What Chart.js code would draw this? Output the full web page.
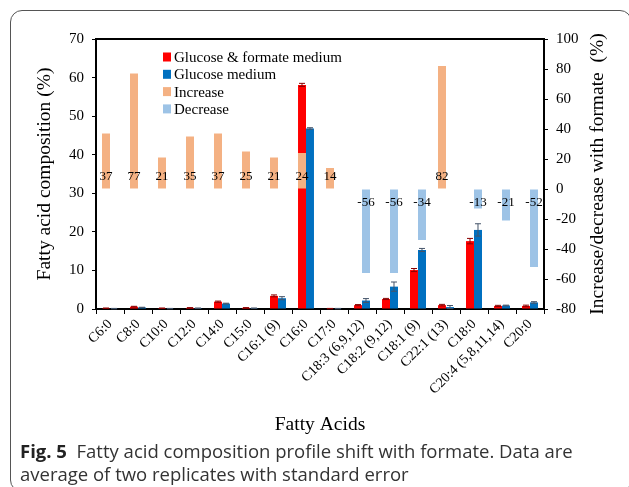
<!DOCTYPE html>
<html>
<head>
<meta charset="utf-8">
<script src="https://cdn.jsdelivr.net/npm/chart.js@4.4.1/dist/chart.umd.min.js"></script>
<style>
  body { margin: 0; background: #fff; }
  #wrap { position: relative; width: 629px; height: 487px; overflow: hidden; }
  #frame { position: absolute; left: 10px; top: 10px; width: 622px; height: 482px; box-sizing: border-box;
           border: 1.5px solid #555; border-radius: 12px; }
  #chart { position: absolute; left: 0; top: 0; }
  #caption { position: absolute; left: 20px; top: 439px; font-family: "Open Sans", sans-serif; font-size: 18.5px;
             line-height: 23px; color: #333; white-space: nowrap; }
  #caption b { color: #222; }
</style>
</head>
<body>
<div id="wrap">
  <div id="frame"></div>
  <canvas id="chart" width="629" height="440"></canvas>
  <div id="caption"><b>Fig. 5</b>&nbsp; Fatty acid composition profile shift with formate. Data are<br>average of two replicates with standard error</div>
</div>
<script>
// Fatty acids and composition values (%)
const categories = ['C6:0', 'C8:0', 'C10:0', 'C12:0', 'C14:0', 'C15:0', 'C16:1 (9)', 'C16:0', 'C17:0',
  'C18:3 (6,9,12)', 'C18:2 (9,12)', 'C18:1 (9)', 'C22:1 (13)', 'C18:0', 'C20:4 (5,8,11,14)', 'C20:0'];
const glucoseFormate = [0.2, 0.6, 0.2, 0.3, 1.9, 0.3, 3.4, 58.1, 0.1, 1.0, 2.6, 10.1, 1.0, 17.6, 0.8, 0.8];
const glucoseFormateErr = [0.05, 0.1, 0.05, 0.05, 0.15, 0.05, 0.25, 0.4, 0.05, 0.15, 0.15, 0.4, 0.2, 0.7, 0.15, 0.2];
const glucose = [0.1, 0.4, 0.1, 0.2, 1.4, 0.2, 2.8, 46.8, 0.1, 2.2, 5.8, 15.3, 0.5, 20.5, 0.9, 1.7];
const glucoseErr = [0.05, 0.05, 0.05, 0.05, 0.1, 0.05, 0.4, 0.2, 0.05, 0.5, 1.2, 0.4, 0.4, 1.6, 0.1, 0.2];
// change with formate (%), right axis
const increase = [37, 77, 21, 35, 37, 25, 21, 24, 14, null, null, null, 82, null, null, null];
const decrease = [null, null, null, null, null, null, null, null, null, -56, -56, -34, null, -13, -21, -52];
// axis ranges
const leftTicks = [0, 70, 10];
const rightTicks = [-80, 100, 20];

const serif = 'Liberation Serif';
Chart.defaults.font.family = serif;
Chart.defaults.color = '#000';

// error bars on the two composition series
const errorBars = {
  id: 'errorBars',
  afterDatasetsDraw(chart) {
    const ctx = chart.ctx;
    const y = chart.scales.y;
    [[0, glucoseFormateErr, '#8b0000'], [1, glucoseErr, '#44546a']].forEach(([di, errs, col]) => {
      const vals = chart.data.datasets[di].data;
      chart.getDatasetMeta(di).data.forEach((bar, i) => {
        const top = y.getPixelForValue(vals[i] + errs[i]);
        const bot = y.getPixelForValue(Math.max(0, vals[i] - errs[i]));
        ctx.save();
        ctx.strokeStyle = col;
        ctx.lineWidth = 1;
        ctx.beginPath();
        ctx.moveTo(bar.x, top); ctx.lineTo(bar.x, bot);
        ctx.moveTo(bar.x - 3, top); ctx.lineTo(bar.x + 3, top);
        ctx.moveTo(bar.x - 3, bot); ctx.lineTo(bar.x + 3, bot);
        ctx.stroke();
        ctx.restore();
      });
    });
  }
};

// value labels, plot frame, legend and right title
const extras = {
  id: 'extras',
  afterDraw(chart) {
    const ctx = chart.ctx;
    const a = chart.chartArea;
    const y1 = chart.scales.y1;
    const zero = y1.getPixelForValue(0);
    ctx.save();
    ctx.font = '13px ' + serif;
    ctx.fillStyle = '#000';
    ctx.textAlign = 'center';
    ctx.textBaseline = 'middle';
    chart.getDatasetMeta(2).data.forEach((bar, i) => {
      if (increase[i] !== null) ctx.fillText(String(increase[i]), bar.x, zero - 12);
    });
    chart.getDatasetMeta(3).data.forEach((bar, i) => {
      if (decrease[i] !== null) ctx.fillText(String(decrease[i]), bar.x, zero + 14);
    });

    // top line of the plot box
    ctx.strokeStyle = '#000';
    ctx.lineWidth = 2;
    ctx.beginPath();
    ctx.moveTo(a.left, a.top); ctx.lineTo(a.right, a.top);
    ctx.stroke();

    // legend inside the plot
    ctx.font = '15px ' + serif;
    ctx.textAlign = 'left';
    chart.data.datasets.forEach((ds, i) => {
      const cy = a.top + 18 + i * 17.3;
      ctx.fillStyle = ds.backgroundColor;
      ctx.fillRect(a.left + 67, cy - 4.5, 8, 9);
      ctx.fillStyle = '#000';
      ctx.fillText(ds.label, a.left + 78, cy + 1);
    });

    // right axis title, reading upwards
    ctx.font = '19.5px ' + serif;
    ctx.textAlign = 'center';
    ctx.translate(y1.right - 31, (a.top + a.bottom) / 2);
    ctx.rotate(-Math.PI / 2);
    ctx.fillText('Increase/decrease with formate  (%)', 0, 0);
    ctx.restore();
  }
};

const ctx = document.getElementById('chart').getContext('2d');
new Chart(ctx, {
  type: 'bar',
  data: {
    labels: categories,
    datasets: [
      { label: 'Glucose & formate medium', data: glucoseFormate, backgroundColor: '#ff0000', yAxisID: 'y', stack: 'a', order: 1 },
      { label: 'Glucose medium', data: glucose, backgroundColor: '#0070c0', yAxisID: 'y', stack: 'b', order: 1 },
      { label: 'Increase', data: increase, backgroundColor: '#f4b183', yAxisID: 'y1', stack: 'a', order: 0 },
      { label: 'Decrease', data: decrease, backgroundColor: '#9dc3e6', yAxisID: 'y1', stack: 'b', order: 0 }
    ]
  },
  options: {
    responsive: false,
    animation: false,
    devicePixelRatio: 1,
    categoryPercentage: 0.57,
    barPercentage: 1,
    layout: { padding: { top: 39, left: 0, right: 0, bottom: 0 } },
    plugins: { legend: { display: false }, tooltip: { enabled: false } },
    scales: {
      x: {
        grid: { drawOnChartArea: false, color: '#000', tickLength: 5, lineWidth: 1 },
        border: { color: '#000', width: 2 },
        ticks: { minRotation: 45, maxRotation: 45, autoSkip: false, padding: 2, font: { size: 14 } },
        title: { display: true, text: 'Fatty Acids', font: { size: 19.5 }, padding: { top: 1, bottom: 3 } },
        afterFit: (s) => { s.height = 131; }
      },
      y: {
        position: 'left',
        stacked: false,
        min: leftTicks[0], max: leftTicks[1],
        ticks: { stepSize: leftTicks[2], padding: 8, font: { size: 15 } },
        grid: { drawOnChartArea: false, color: '#000', tickLength: 4 },
        border: { color: '#000', width: 2 },
        title: { display: true, text: 'Fatty acid composition (%)', font: { size: 19.5 }, padding: { top: 33, bottom: 0 } },
        afterFit: (s) => { s.width = 96; }
      },
      y1: {
        position: 'right',
        stacked: false,
        min: rightTicks[0], max: rightTicks[1],
        ticks: { stepSize: rightTicks[2], padding: 8, font: { size: 15 } },
        grid: { drawOnChartArea: false, color: '#000', tickLength: 4 },
        border: { color: '#000', width: 2 },
        afterFit: (s) => { s.width = 85; }
      }
    }
  },
  plugins: [errorBars, extras]
});
</script>
</body>
</html>
